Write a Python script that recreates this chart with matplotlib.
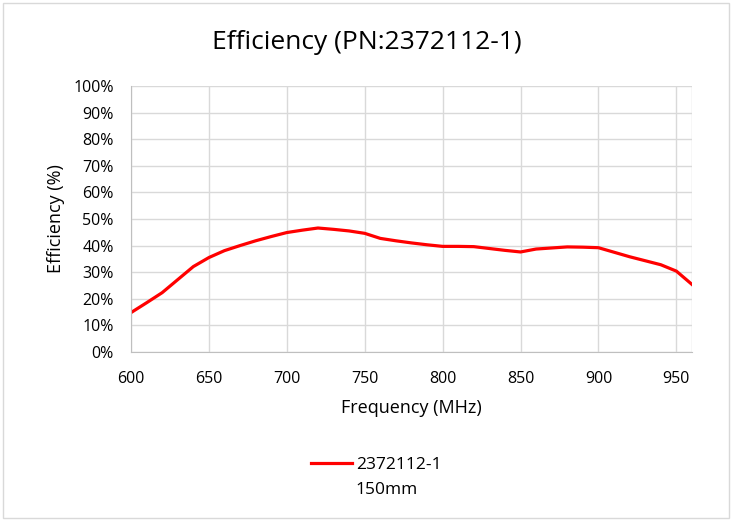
import matplotlib.pyplot as plt
from matplotlib.patches import Rectangle
from matplotlib.ticker import PercentFormatter

plt.rcParams['font.family'] = ['Open Sans', 'DejaVu Sans']

freq = [600, 610, 620, 630, 640, 650, 660, 670, 680, 690, 700, 710, 720, 730,
        740, 750, 760, 770, 780, 790, 800, 810, 820, 830, 840, 850, 860, 870,
        880, 890, 900, 910, 920, 930, 940, 950, 960]
eff = [14.8, 18.5, 22.3, 27.2, 32.1, 35.5, 38.1, 40.0, 41.8, 43.4, 44.9, 45.8,
       46.6, 46.1, 45.5, 44.6, 42.7, 41.8, 41.0, 40.3, 39.7, 39.7, 39.6, 38.9,
       38.2, 37.6, 38.7, 39.1, 39.5, 39.4, 39.2, 37.5, 35.8, 34.3, 32.8, 30.4,
       25.4]
x_ticks = [600, 650, 700, 750, 800, 850, 900, 950]
series_name = "2372112-1"
series_note = "150mm"

fig = plt.figure(figsize=(7.33, 5.21), dpi=100)
ax = fig.add_axes([0.1787, 0.3244, 0.7653, 0.5106])

ax.plot(freq, eff, color='#ff0000', linewidth=2.3, label=series_name,
        solid_joinstyle='round')

ax.set_xlim(600, 960)
ax.set_ylim(0, 100)
ax.set_xticks(x_ticks)
ax.set_yticks(range(0, 101, 10))
ax.yaxis.set_major_formatter(PercentFormatter(decimals=0))
ax.tick_params(length=0, labelsize=11.5, colors='#000000')
ax.tick_params(axis='x', pad=13.5)
ax.tick_params(axis='y', pad=12.5)

# gridlines, with an extra one at the right edge
ax.grid(True, color='#d9d9d9', linewidth=1)
ax.axvline(960, color='#d9d9d9', linewidth=1, zorder=0)
for side in ['top', 'right']:
    ax.spines[side].set_visible(False)
for side in ['left', 'bottom']:
    ax.spines[side].set_color('#bfbfbf')
ax.set_axisbelow(True)

ax.set_xlabel("Frequency (MHz)", fontsize=13, labelpad=9)
ax.set_ylabel("Efficiency (%)", fontsize=13, labelpad=6)
fig.text(0.5, 0.918, "Efficiency (PN:2372112-1)", ha='center', va='center',
         fontsize=19)

leg = fig.legend(loc='center', bbox_to_anchor=(0.513, 1 - 465 / 521),
                 frameon=False, fontsize=12.5, handlelength=2.4,
                 handletextpad=0.2)

# second line of the legend entry, under the series name
fig.canvas.draw()
bb = leg.get_texts()[0].get_window_extent()
fig.text(bb.x0, bb.y0 - 25, series_note, fontsize=12.5,
         transform=None, va='bottom', ha='left')

fig.patches.append(Rectangle((0.004, 0.006), 0.99, 0.988,
                             transform=fig.transFigure, fill=False,
                             edgecolor='#d9d9d9', linewidth=1))

fig.savefig("out.png", dpi=100)
